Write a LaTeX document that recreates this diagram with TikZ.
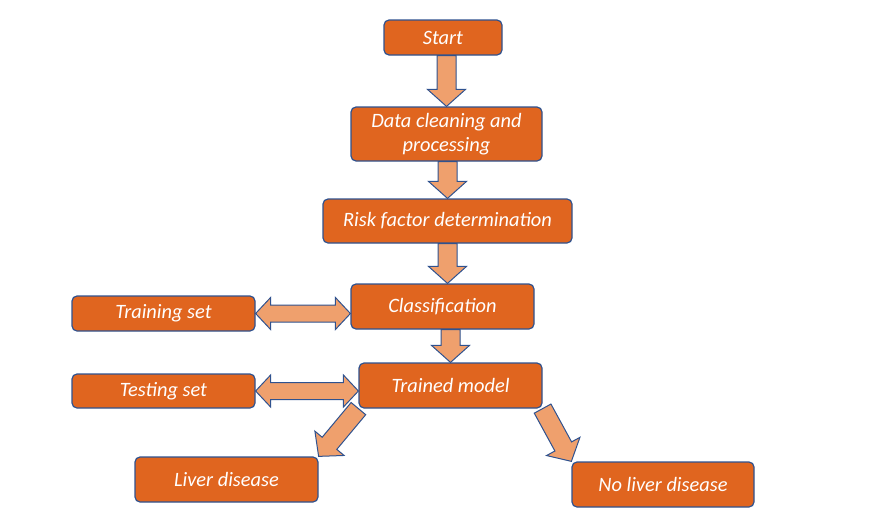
\documentclass[tikz,border=0pt]{standalone}
\usepackage{fontspec}
\setmainfont{Carlito}
\usetikzlibrary{calc}
\definecolor{boxorange}{HTML}{E0651F}
\definecolor{arroworange}{HTML}{EFA06D}
\definecolor{edgeblue}{HTML}{2F528F}
\newcommand{\blockarrow}[2]{%
	\draw[arrowbody] let \p1 = #1, \p2 = #2, \n1 = {atan2(\y2-\y1, \x2-\x1)}, \n2 = {veclen(\x2-\x1, \y2-\y1)} in
		[shift={(\p1)}, rotate=\n1] (0pt, -4.75pt) -- ({\n2*1pt-8.5pt}, -4.75pt) -- ({\n2*1pt-8.5pt}, -9.5pt) -- ({\n2*1pt}, 0pt)
		-- ({\n2*1pt-8.5pt}, 9.5pt) -- ({\n2*1pt-8.5pt}, 4.75pt) -- (0pt, 4.75pt) -- cycle;}
\newcommand{\dblarrow}[2]{%
	\draw[arrowbody] let \p1 = #1, \p2 = #2, \n1 = {atan2(\y2-\y1, \x2-\x1)}, \n2 = {veclen(\x2-\x1, \y2-\y1)} in
		[shift={(\p1)}, rotate=\n1] (0pt, 0pt) -- (7.5pt, 8pt) -- (7.5pt, 4.25pt) -- ({\n2*1pt-7.5pt}, 4.25pt) -- ({\n2*1pt-7.5pt}, 8pt)
		-- ({\n2*1pt}, 0pt) -- ({\n2*1pt-7.5pt}, -8pt) -- ({\n2*1pt-7.5pt}, -4.25pt) -- (7.5pt, -4.25pt) -- (7.5pt, -8pt) -- cycle;}
\begin{document}
\begin{tikzpicture}[x=0.5pt, y=-0.5pt,
	box/.style={draw=edgeblue, line width=0.6pt, fill=boxorange, rounded corners=2.5pt, text=white, align=center,
		font=\fontsize{10.2}{12.2}\selectfont\itshape, minimum width=91.5pt, minimum height=22.5pt, inner sep=1pt},
	arrowbody/.style={draw=edgeblue, line width=0.5pt, fill=arroworange, line join=miter}]
	\useasboundingbox (0, 0) rectangle (889, 520);
	\node (start) at (443, 37.5) [box, minimum width=59pt, minimum height=17.5pt] {Start};
	\node (data) at (446.5, 134) [box, minimum width=95.5pt, minimum height=27pt] {Data cleaning and\\processing};
	\node (risk) at (447.5, 221) [box, minimum width=124.5pt, minimum height=22pt] {Risk factor determination};
	\node (class) at (442.5, 306.5) [box] {Classification};
	\node (train) at (163.5, 313.5) [box, minimum height=17.5pt] {Training set};
	\node (trained) at (450.5, 385.5) [box] {Trained model};
	\node (test) at (163.5, 391) [box, minimum height=17pt] {Testing set};
	\node (liver) at (226.5, 479.5) [box] {Liver disease};
	\node (noliver) at (663, 484.5) [box, minimum width=91pt] {No liver disease};
	\blockarrow{(data.north |- start.south)}{(data.north)}
	\blockarrow{(risk.north |- data.south)}{(risk.north)}
	\blockarrow{(risk.south)}{(risk.south |- class.north)}
	\blockarrow{(trained.north |- class.south)}{(trained.north)}
	\dblarrow{(train.east)}{(train.east -| class.west)}
	\dblarrow{(test.east)}{(test.east -| trained.west)}
	\blockarrow{(trained.south west)}{(liver.north east)}
	\blockarrow{(trained.south east)}{(noliver.north west)}
\end{tikzpicture}
\end{document}
